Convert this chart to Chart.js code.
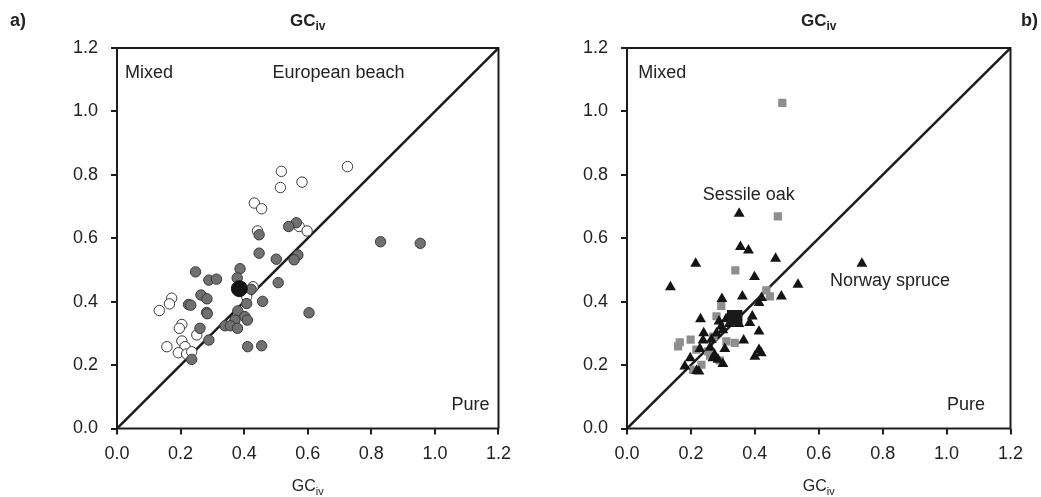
<!DOCTYPE html>
<html>
<head>
<meta charset="utf-8">
<script src="https://cdn.jsdelivr.net/npm/chart.js@4"></script>
<style>
  html, body { margin: 0; padding: 0; background: #fff; }
  #wrap { position: relative; width: 1041px; height: 497px; }
  canvas { position: absolute; top: 0; }
</style>
</head>
<body>
<div id="wrap">
  <canvas id="chart-a" width="520" height="497" style="left:0"></canvas>
  <canvas id="chart-b" width="521" height="497" style="left:520px"></canvas>
</div>
<script>
// ---- data ----
const axisTicks = [0.0, 0.2, 0.4, 0.6, 0.8, 1.0, 1.2];
const diagonal = [0, 1.2];

// a) European beech
const beechOpenX = [0.725, 0.517, 0.514, 0.582, 0.432, 0.455, 0.442, 0.573, 0.598, 0.428, 0.408,
    0.172, 0.165, 0.133, 0.204, 0.196, 0.251, 0.204, 0.214, 0.157, 0.193, 0.219, 0.235];
const beechOpenY = [0.826, 0.811, 0.760, 0.777, 0.711, 0.693, 0.623, 0.637, 0.623, 0.447, 0.416,
    0.411, 0.393, 0.372, 0.328, 0.316, 0.295, 0.276, 0.258, 0.258, 0.239, 0.235, 0.242];
const beechGreyX = [0.564, 0.540, 0.447, 0.447, 0.569, 0.557, 0.501, 0.387, 0.378, 0.507, 0.422,
    0.247, 0.289, 0.313, 0.264, 0.283, 0.225, 0.232, 0.282, 0.284, 0.458, 0.408, 0.380, 0.402,
    0.410, 0.371, 0.340, 0.357, 0.379, 0.261, 0.289, 0.235, 0.411, 0.455, 0.604, 0.829, 0.954];
const beechGreyY = [0.649, 0.637, 0.611, 0.553, 0.547, 0.532, 0.534, 0.504, 0.475, 0.460, 0.439,
    0.494, 0.468, 0.471, 0.421, 0.409, 0.391, 0.389, 0.366, 0.362, 0.401, 0.394, 0.371, 0.353,
    0.342, 0.342, 0.324, 0.324, 0.316, 0.316, 0.279, 0.218, 0.258, 0.261, 0.365, 0.589, 0.584];
const beechMean = [0.385, 0.441];

// b) Sessile oak (squares) and Norway spruce (triangles)
const oakX = [0.486, 0.472, 0.339, 0.436, 0.447, 0.295, 0.280, 0.165, 0.160, 0.199, 0.311,
    0.337, 0.217, 0.254, 0.233, 0.207, 0.270, 0.260, 0.290];
const oakY = [1.027, 0.669, 0.499, 0.436, 0.417, 0.387, 0.354, 0.272, 0.259, 0.280, 0.275,
    0.270, 0.249, 0.243, 0.201, 0.185, 0.290, 0.230, 0.215];
const oakMean = [0.337, 0.349];
const spruceX = [0.351, 0.136, 0.215, 0.355, 0.380, 0.465, 0.399, 0.535, 0.735, 0.297, 0.361,
    0.413, 0.421, 0.483, 0.230, 0.288, 0.295, 0.384, 0.392, 0.413, 0.240, 0.264, 0.238, 0.365,
    0.306, 0.228, 0.413, 0.420, 0.400, 0.198, 0.269, 0.285, 0.300, 0.274, 0.181, 0.225, 0.218,
    0.310, 0.320, 0.300, 0.350, 0.280, 0.260];
const spruceY = [0.678, 0.446, 0.520, 0.573, 0.562, 0.536, 0.478, 0.454, 0.520, 0.409, 0.417,
    0.396, 0.412, 0.417, 0.345, 0.338, 0.322, 0.333, 0.354, 0.306, 0.301, 0.280, 0.278, 0.278,
    0.251, 0.251, 0.248, 0.238, 0.227, 0.222, 0.222, 0.217, 0.204, 0.233, 0.196, 0.180, 0.182,
    0.345, 0.330, 0.310, 0.330, 0.300, 0.255];

const notesA = [
    { text: 'Mixed', x: 0.025, y: 1.122, align: 'left' },
    { text: 'European beach', x: 0.489, y: 1.122, align: 'left' },
    { text: 'Pure', x: 1.172, y: 0.074, align: 'right' },
];
const notesB = [
    { text: 'Mixed', x: 0.035, y: 1.122, align: 'left' },
    { text: 'Sessile oak', x: 0.237, y: 0.735, align: 'left' },
    { text: 'Norway spruce', x: 0.635, y: 0.466, align: 'left' },
    { text: 'Pure', x: 1.12, y: 0.074, align: 'right' },
];

// ---- style ----
const FONT = '"Liberation Sans", Arial, sans-serif';
const INK = '#1c1c1c';
Chart.defaults.font.family = FONT;
Chart.defaults.font.size = 18;
Chart.defaults.color = '#222';
Chart.defaults.animation = false;

const pts = (xs, ys) => xs.map((x, i) => ({ x: x, y: ys[i] }));

function drawSub(ctx, main, sub, cx, base, weight, size) {
    ctx.font = weight + ' ' + size + 'px ' + FONT;
    const w1 = ctx.measureText(main).width;
    const subFont = weight + ' ' + Math.round(size * 0.68) + 'px ' + FONT;
    ctx.font = subFont;
    const w2 = ctx.measureText(sub).width;
    const x0 = cx - (w1 + w2) / 2;
    ctx.textAlign = 'left';
    ctx.textBaseline = 'alphabetic';
    ctx.font = weight + ' ' + size + 'px ' + FONT;
    ctx.fillText(main, x0, base);
    ctx.font = subFont;
    ctx.fillText(sub, x0 + w1, base + size * 0.22);
}

// frame, notes, titles
const decor = {
    id: 'decor',
    afterDraw(chart, args, opts) {
        const { ctx, chartArea: a, scales: { x, y } } = chart;
        ctx.save();
        ctx.strokeStyle = INK;
        ctx.lineWidth = 2;
        ctx.strokeRect(a.left, a.top, a.right - a.left, a.bottom - a.top);

        ctx.fillStyle = '#222';
        ctx.font = '18px ' + FONT;
        ctx.textBaseline = 'middle';
        opts.notes.forEach(n => {
            ctx.textAlign = n.align;
            ctx.fillText(n.text, x.getPixelForValue(n.x), y.getPixelForValue(n.y));
        });

        const cx = (a.left + a.right) / 2;
        drawSub(ctx, 'GC', 'iv', cx, 26, 'bold', 17);
        drawSub(ctx, 'GC', 'iv', cx, 491, 'normal', 16);

        ctx.font = 'bold 18px ' + FONT;
        ctx.textAlign = 'left';
        ctx.textBaseline = 'alphabetic';
        ctx.fillText(opts.panel, opts.panelX, 26);
        ctx.restore();
    },
};

function makeOptions(yWidth, padRight, notes, panel, panelX) {
    const tickFmt = v => v.toFixed(1);
    const axisGrid = { drawOnChartArea: false, drawTicks: true, tickLength: 6, color: INK, lineWidth: 2 };
    return {
        responsive: false,
        devicePixelRatio: 1,
        layout: { padding: { top: 48, right: padRight, left: 0, bottom: 0 } },
        plugins: {
            legend: { display: false },
            tooltip: { enabled: false },
            decor: { notes: notes, panel: panel, panelX: panelX },
        },
        scales: {
            x: {
                type: 'linear',
                min: 0, max: 1.2,
                afterBuildTicks: s => { s.ticks = axisTicks.map(v => ({ value: v })); },
                ticks: { callback: tickFmt, padding: 9, maxRotation: 0 },
                grid: axisGrid,
                border: { display: false },
                afterFit: s => { s.height = 68.5; },
            },
            y: {
                min: 0, max: 1.2,
                afterBuildTicks: s => { s.ticks = axisTicks.map(v => ({ value: v })); },
                ticks: { callback: tickFmt, padding: 13 },
                grid: axisGrid,
                border: { display: false },
                afterFit: s => { s.width = yWidth; },
            },
        },
    };
}

const diagLine = {
    type: 'line',
    data: pts(diagonal, diagonal),
    borderColor: INK,
    borderWidth: 2.5,
    pointRadius: 0,
};

new Chart(document.getElementById('chart-a'), {
    type: 'scatter',
    data: {
        datasets: [
            {
                data: pts([beechMean[0]], [beechMean[1]]),
                pointStyle: 'circle', pointRadius: 8,
                backgroundColor: '#151515', borderColor: '#151515', borderWidth: 1,
            },
            {
                data: pts(beechGreyX, beechGreyY),
                pointStyle: 'circle', pointRadius: 5.2,
                backgroundColor: '#707070', borderColor: '#3a3a3a', borderWidth: 1,
            },
            {
                data: pts(beechOpenX, beechOpenY),
                pointStyle: 'circle', pointRadius: 5.2,
                backgroundColor: '#ffffff', borderColor: '#3a3a3a', borderWidth: 1,
            },
            diagLine,
        ],
    },
    options: makeOptions(117, 20, notesA, 'a)', 10),
    plugins: [decor],
});

new Chart(document.getElementById('chart-b'), {
    type: 'scatter',
    data: {
        datasets: [
            {
                data: pts([oakMean[0]], [oakMean[1]]),
                pointStyle: 'rect', pointRadius: 11,
                backgroundColor: '#1a1a1a', borderWidth: 0,
            },
            {
                data: pts(spruceX, spruceY),
                pointStyle: 'triangle', pointRadius: 6.3,
                backgroundColor: '#141414', borderColor: '#141414', borderWidth: 0,
            },
            {
                data: pts(oakX, oakY),
                pointStyle: 'rect', pointRadius: 5.8,
                backgroundColor: '#8e8e8e', borderWidth: 0,
            },
            { ...diagLine, data: pts(diagonal, diagonal) },
        ],
    },
    options: makeOptions(107, 30.5, notesB, 'b)', 501),
    plugins: [decor],
});
</script>
</body>
</html>
